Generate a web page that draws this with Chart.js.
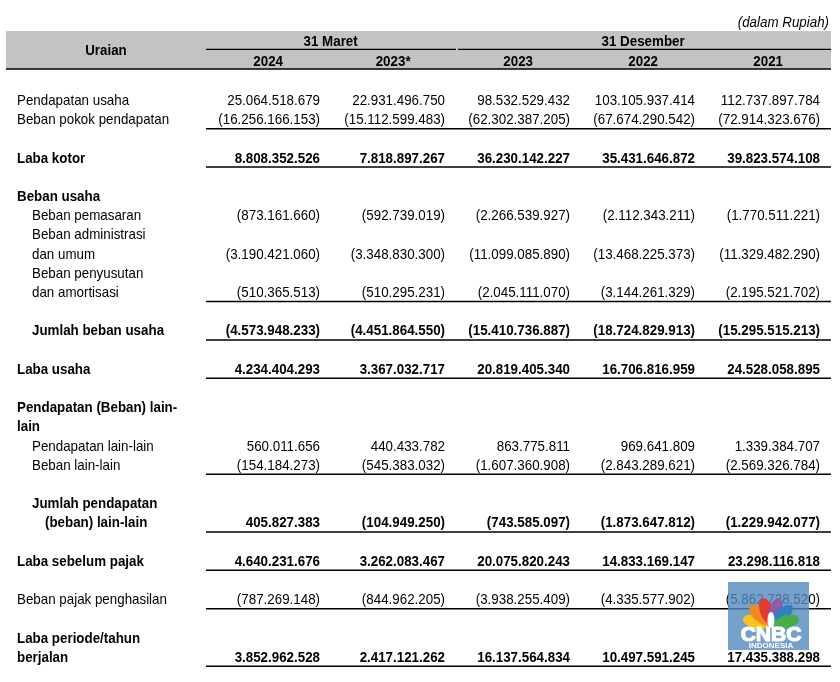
<!DOCTYPE html>
<html lang="id">
<head>
<meta charset="UTF-8">
<title>Laporan laba rugi</title>
<script src="https://cdn.jsdelivr.net/npm/chart.js"></script>
<style>
  body { margin: 0; background: #fff; }
  #wrap { width: 840px; height: 682px; }
</style>
</head>
<body>
<div id="wrap"><canvas id="tbl" width="840" height="682"></canvas></div>
<script>
// ---- data ----
const unitNote = '(dalam Rupiah)';
const firstHeader = 'Uraian';
const periods = ['31 Maret', '31 Desember'];
const years = ['2024', '2023*', '2023', '2022', '2021'];

const rowLabels = [
  'Pendapatan usaha', 'Beban pokok pendapatan', 'Laba kotor', 'Beban usaha',
  'Beban pemasaran', 'Beban administrasi', 'dan umum', 'Beban penyusutan',
  'dan amortisasi', 'Jumlah beban usaha', 'Laba usaha', 'Pendapatan (Beban) lain-',
  'lain', 'Pendapatan lain-lain', 'Beban lain-lain', 'Jumlah pendapatan',
  '(beban) lain-lain', 'Laba sebelum pajak', 'Beban pajak penghasilan',
  'Laba periode/tahun', 'berjalan'
];

const val2024 = [25064518679, -16256166153, 8808352526, null, -873161660, null, -3190421060, null,
  -510365513, -4573948233, 4234404293, null, null, 560011656, -154184273, null,
  405827383, 4640231676, -787269148, null, 3852962528];
const val2023m = [22931496750, -15112599483, 7818897267, null, -592739019, null, -3348830300, null,
  -510295231, -4451864550, 3367032717, null, null, 440433782, -545383032, null,
  -104949250, 3262083467, -844962205, null, 2417121262];
const val2023 = [98532529432, -62302387205, 36230142227, null, -2266539927, null, -11099085890, null,
  -2045111070, -15410736887, 20819405340, null, null, 863775811, -1607360908, null,
  -743585097, 20075820243, -3938255409, null, 16137564834];
const val2022 = [103105937414, -67674290542, 35431646872, null, -2112343211, null, -13468225373, null,
  -3144261329, -18724829913, 16706816959, null, null, 969641809, -2843289621, null,
  -1873647812, 14833169147, -4335577902, null, 10497591245];
const val2021 = [112737897784, -72914323676, 39823574108, null, -1770511221, null, -11329482290, null,
  -2195521702, -15295515213, 24528058895, null, null, 1339384707, -2569326784, null,
  -1229942077, 23298116818, -5862728520, null, 17435388298];

// ---- layout (line index, indent, bold, rule below) ----
const rowLine   = [0, 1, 3, 5, 6, 7, 8, 9, 10, 12, 14, 16, 17, 18, 19, 21, 22, 24, 26, 28, 29];
const rowIndent = [0, 0, 0, 0, 1, 1, 1, 1, 1, 1, 0, 0, 0, 1, 1, 1, 2, 0, 0, 0, 0];
const rowBold   = [0, 0, 1, 1, 0, 0, 0, 0, 0, 1, 1, 1, 1, 0, 0, 1, 1, 1, 0, 1, 1];
const rowRule   = [0, 1, 1, 0, 0, 0, 0, 0, 1, 1, 1, 0, 0, 0, 1, 0, 1, 1, 1, 0, 1];
const indentPx = [17, 32, 45];
const periodCols = [[0, 1], [2, 4]];

const FONT = '"Liberation Sans", Arial, sans-serif';
const SIZE = '15px ';
const SQUEEZE = 0.89;

function fmt(v) {
  const s = Math.abs(v).toString().replace(/\B(?=(\d{3})+(?!\d))/g, '.');
  return v < 0 ? '(' + s + ')' : s;
}

function txt(ctx, s, x, y, align, font) {
  ctx.save();
  ctx.font = font;
  ctx.textAlign = align;
  ctx.textBaseline = 'alphabetic';
  ctx.fillStyle = '#000';
  ctx.translate(x, y);
  ctx.scale(SQUEEZE, 1);
  ctx.fillText(s, 0, 0);
  ctx.restore();
}

function hline(ctx, x1, x2, y, w) {
  ctx.save();
  ctx.strokeStyle = '#000';
  ctx.lineWidth = w;
  ctx.beginPath();
  ctx.moveTo(x1, y);
  ctx.lineTo(x2, y);
  ctx.stroke();
  ctx.restore();
}

function drawLogo(ctx) {
  ctx.save();
  ctx.fillStyle = 'rgba(84,138,190,0.8)';
  ctx.fillRect(728, 582, 81, 68);
  const cx = 771, cy = 626;
  const cols = ['#f6c51b', '#f18a1f', '#e23a2f', '#8e5ba8', '#2f80c3', '#45ad4a'];
  const angs = [-165, -136, -107, -73, -44, -15];
  angs.forEach((a, i) => {
    const r = a * Math.PI / 180;
    ctx.save();
    ctx.translate(cx + Math.cos(r) * 16, cy + Math.sin(r) * 16);
    ctx.rotate(r);
    ctx.fillStyle = cols[i];
    ctx.beginPath();
    ctx.ellipse(0, 0, 13, 6.5, 0, 0, Math.PI * 2);
    ctx.fill();
    ctx.restore();
  });
  ctx.fillStyle = '#fff';
  ctx.beginPath();
  ctx.ellipse(cx, cy - 6, 3.5, 8, 0, 0, Math.PI * 2);
  ctx.fill();
  ctx.font = '900 21px ' + FONT;
  ctx.textAlign = 'center';
  ctx.strokeStyle = '#fff';
  ctx.lineWidth = 1.2;
  ctx.fillText('CNBC', cx, 641);
  ctx.strokeText('CNBC', cx, 641);
  ctx.font = 'bold 8px ' + FONT;
  ctx.fillText('INDONESIA', cx, 648);
  ctx.restore();
}

const tablePlugin = {
  id: 'tablePlugin',
  beforeDatasetsDraw(chart) {
    const ctx = chart.ctx;
    const xs = chart.scales.x, ys = chart.scales.y;
    const left = chart.chartArea.left;
    const colCenter = c => xs.getPixelForValue(c - 0.415);
    const tabL = xs.getPixelForValue(-0.912), tabR = xs.getPixelForValue(4.088);

    // header band
    const bandTop = ys.getPixelForValue(-3.85), bandBot = ys.getPixelForValue(-1.875);
    ctx.fillStyle = '#c3c3c3';
    ctx.fillRect(left + 6, bandTop, tabR - left - 6, bandBot - bandTop);
    hline(ctx, left + 6, tabR, bandBot, 1.5);

    txt(ctx, unitNote, tabR - 2, ys.getPixelForValue(-4.08), 'right', 'italic ' + SIZE + FONT);
    txt(ctx, firstHeader, left + 106, ys.getPixelForValue(-2.6), 'center', 'bold ' + SIZE + FONT);

    const midY = ys.getPixelForValue(-2.9);
    const split = xs.getPixelForValue(1) + 11;
    periods.forEach((p, i) => {
      const [a, b] = periodCols[i];
      const cx = (colCenter(a) + colCenter(b)) / 2;
      txt(ctx, p, cx, ys.getPixelForValue(-3.09), 'center', 'bold ' + SIZE + FONT);
      const x1 = i === 0 ? tabL : split + 2;
      const x2 = i === 0 ? split : tabR;
      hline(ctx, x1, x2, midY, 1.2);
    });
    years.forEach((y, i) => {
      txt(ctx, y, colCenter(i), ys.getPixelForValue(-2.055), 'center', 'bold ' + SIZE + FONT);
    });

    // row labels and rules
    rowLabels.forEach((lab, i) => {
      const y = ys.getPixelForValue(rowLine[i]);
      txt(ctx, lab, left + indentPx[rowIndent[i]], y, 'left', (rowBold[i] ? 'bold ' : '') + SIZE + FONT);
      if (rowRule[i]) hline(ctx, tabL, tabR, y + 4.5, 1.5);
    });
  },
  afterDatasetsDraw(chart) {
    const ctx = chart.ctx;
    chart.data.datasets.forEach((ds, di) => {
      const meta = chart.getDatasetMeta(di);
      meta.data.forEach((pt, j) => {
        const raw = ds.data[j];
        const font = (rowBold[raw.row] ? 'bold ' : '') + SIZE + FONT;
        txt(ctx, fmt(raw.v), pt.x, pt.y, 'right', font);
      });
    });
  },
  afterDraw(chart) {
    drawLogo(chart.ctx);
  }
};

const series = [val2024, val2023m, val2023, val2022, val2021];
const datasets = series.map((vals, col) => ({
  label: years[col],
  data: vals.map((v, row) => v === null ? null : { x: col, y: rowLine[row], v: v, row: row })
            .filter(p => p !== null),
  pointRadius: 0,
  showLine: false
}));

new Chart(document.getElementById('tbl'), {
  type: 'scatter',
  data: { datasets: datasets },
  options: {
    responsive: false,
    animation: false,
    layout: { padding: 0 },
    plugins: { legend: { display: false }, tooltip: { enabled: false } },
    scales: {
      x: { type: 'linear', display: false, min: -2.56, max: 4.16 },
      y: { type: 'linear', display: false, reverse: true, min: -105 / 19.2, max: (682 - 105) / 19.2 }
    }
  },
  plugins: [tablePlugin]
});
</script>
</body>
</html>
